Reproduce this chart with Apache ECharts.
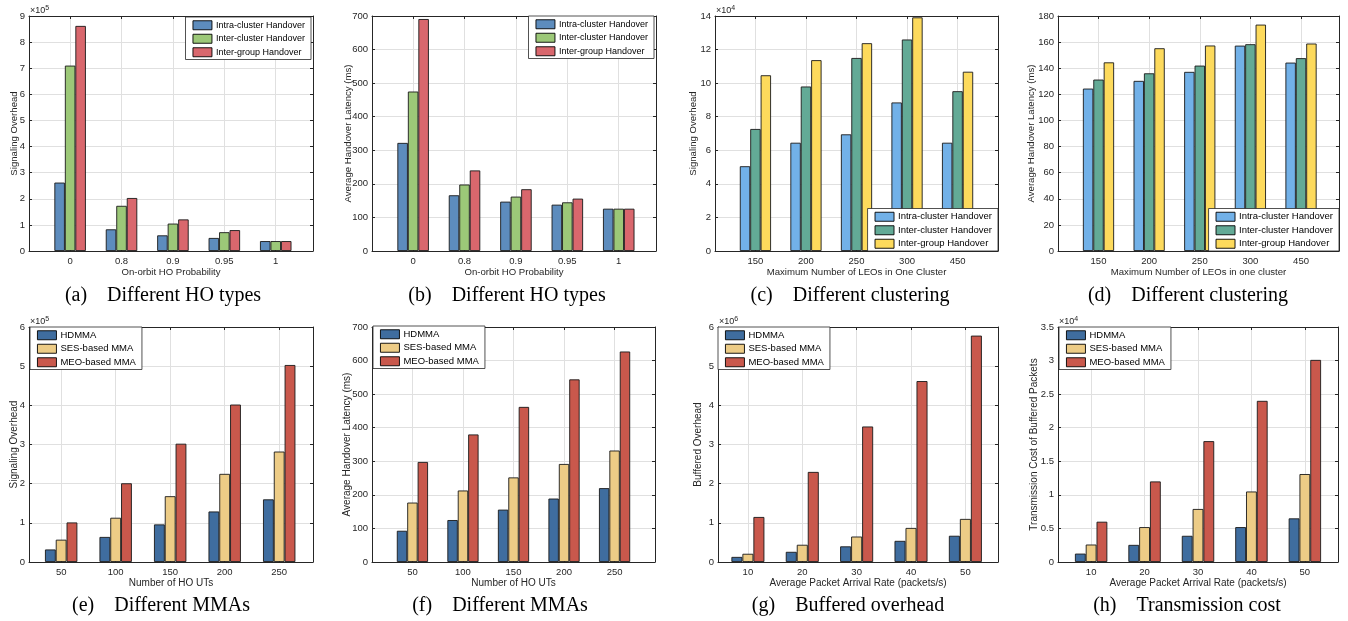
<!DOCTYPE html>
<html>
<head>
<meta charset="utf-8">
<script src="https://cdn.jsdelivr.net/npm/echarts@6/dist/echarts.min.js"></script>
<style>html,body{margin:0;padding:0;background:#fff}#c{width:1348px;height:621px}</style>
</head>
<body>
<div id="c"></div>
<script>
// ---------- data ----------
const hoProbCats = ['0', '0.8', '0.9', '0.95', '1'];
const hoTypeNames = ['Intra-cluster Handover', 'Inter-cluster Handover', 'Inter-group Handover'];
const sigA_intra = [2.62e5, 0.83e5, 0.60e5, 0.50e5, 0.38e5];
const sigA_inter = [7.10e5, 1.73e5, 1.05e5, 0.72e5, 0.38e5];
const sigA_group = [8.62e5, 2.03e5, 1.21e5, 0.80e5, 0.38e5];
const latB_intra = [322, 166, 147, 138, 126];
const latB_inter = [475, 198, 162, 145, 126];
const latB_group = [691, 240, 184, 156, 126];

const leoCats = ['150', '200', '250', '300', '450'];
const sigC_intra = [5.05e4, 6.45e4, 6.95e4, 8.85e4, 6.45e4];
const sigC_inter = [7.27e4, 9.80e4, 11.5e4, 12.6e4, 9.52e4];
const sigC_group = [10.47e4, 11.37e4, 12.38e4, 13.92e4, 10.68e4];
const latD_intra = [124.4, 130.3, 137.2, 157.3, 144.3];
const latD_inter = [131.3, 136.1, 142.0, 158.4, 147.7];
const latD_group = [144.5, 155.3, 157.4, 173.4, 158.9];

const mmaNames = ['HDMMA', 'SES-based MMA', 'MEO-based MMA'];
const utCats = ['50', '100', '150', '200', '250'];
const sigE_hd = [0.32e5, 0.64e5, 0.96e5, 1.29e5, 1.60e5];
const sigE_ses = [0.57e5, 1.13e5, 1.68e5, 2.25e5, 2.82e5];
const sigE_meo = [1.01e5, 2.01e5, 3.02e5, 4.02e5, 5.03e5];
const latF_hd = [93, 125, 156, 189, 220];
const latF_ses = [177, 213, 252, 292, 332];
const latF_meo = [298, 380, 462, 544, 627];

const rateCats = ['10', '20', '30', '40', '50'];
const bufG_hd = [0.13e6, 0.26e6, 0.40e6, 0.54e6, 0.67e6];
const bufG_ses = [0.21e6, 0.44e6, 0.65e6, 0.87e6, 1.10e6];
const bufG_meo = [1.15e6, 2.30e6, 3.46e6, 4.62e6, 5.78e6];
const costH_hd = [0.125e4, 0.255e4, 0.39e4, 0.52e4, 0.65e4];
const costH_ses = [0.26e4, 0.52e4, 0.79e4, 1.05e4, 1.31e4];
const costH_meo = [0.60e4, 1.20e4, 1.80e4, 2.40e4, 3.01e4];

// ---------- styles ----------
const colA = ['#5d8cbd', '#9cc878', '#d9676d'];
const colC = ['#72b1e8', '#63aa96', '#fdda5c'];
const colE = ['#3f6d9f', '#edcc86', '#c9584c'];
const AX = '#262626';
const FONT = 'Liberation Sans';
const CAPFONT = '20px "Liberation Serif"';

const panels = [
  {rect:[29,16,284,235], xlim:[0.2,5.725], bw:10.5, cats:hoProbCats, names:hoTypeNames, vals:[sigA_intra,sigA_inter,sigA_group], colors:colA,
   ymax:9e5, yint:1e5, scale:1e5, exp:'5', xName:'On-orbit HO Probability', yName:'Signaling Overhead', yGap:10,
   legend:{right:1348-311, top:17}, lfs:9, caption:'(a)    Different HO types', cap:[163,296]},
  {rect:[372,16,284,235], xlim:[0.2,5.725], bw:10.5, cats:hoProbCats, names:hoTypeNames, vals:[latB_intra,latB_inter,latB_group], colors:colA,
   ymax:700, yint:100, scale:1, xName:'On-orbit HO Probability', yName:'Average Handover Latency (ms)', yGap:19,
   legend:{right:1348-654, top:16}, lfs:9, caption:'(b)    Different HO types', cap:[507,296]},
  {rect:[715,16,283,235], xlim:[0.2,5.8], bw:10.4, cats:leoCats, names:hoTypeNames, vals:[sigC_intra,sigC_inter,sigC_group], colors:colC,
   ymax:14e4, yint:2e4, scale:1e4, exp:'4', xName:'Maximum Number of LEOs in One Cluster', yName:'Signaling Overhead', yGap:17,
   legend:{right:1348-998, bottom:621-251}, lfs:9.5, caption:'(c)    Different clustering', cap:[850,296]},
  {rect:[1058,16,281,235], xlim:[0.2,5.75], bw:10.4, cats:leoCats, names:hoTypeNames, vals:[latD_intra,latD_inter,latD_group], colors:colC,
   ymax:180, yint:20, scale:1, xName:'Maximum Number of LEOs in one cluster', yName:'Average Handover Latency (ms)', yGap:22,
   legend:{right:1348-1339, bottom:621-251}, lfs:9.5, caption:'(d)    Different clustering', cap:[1188,296]},
  {rect:[29,327,284,235], xlim:[0.41,5.62], bw:10.8, cats:utCats, names:mmaNames, vals:[sigE_hd,sigE_ses,sigE_meo], colors:colE,
   ymax:6e5, yint:1e5, scale:1e5, exp:'5', xName:'Number of HO UTs', yName:'Signaling Overhead', yGap:10,
   legend:{left:30, top:327}, lfs:9.5, caption:'(e)    Different MMAs', cap:[161,606]},
  {rect:[372,327,283,235], xlim:[0.2,5.8], bw:10.4, cats:utCats, names:mmaNames, vals:[latF_hd,latF_ses,latF_meo], colors:colE,
   ymax:700, yint:100, scale:1, xName:'Number of HO UTs', yName:'Average Handover Latency (ms)', yGap:20,
   legend:{left:373, top:326}, lfs:9.5, caption:'(f)    Different MMAs', cap:[500,606]},
  {rect:[718,327,280,235], xlim:[0.45,5.6], bw:11, cats:rateCats, names:mmaNames, vals:[bufG_hd,bufG_ses,bufG_meo], colors:colE,
   ymax:6e6, yint:1e6, scale:1e6, exp:'6', xName:'Average Packet Arrival Rate (packets/s)', yName:'Buffered Overhead', yGap:15,
   legend:{left:718, top:327}, lfs:9.5, caption:'(g)    Buffered overhead', cap:[848,606]},
  {rect:[1058,327,280,235], xlim:[0.38,5.62], bw:10.8, cats:rateCats, names:mmaNames, vals:[costH_hd,costH_ses,costH_meo], colors:colE,
   ymax:3.5e4, yint:0.5e4, scale:1e4, exp:'4', xName:'Average Packet Arrival Rate (packets/s)', yName:'Transmission Cost of Buffered Packets', yGap:19,
   legend:{left:1059, top:327}, lfs:9.5, caption:'(h)    Transmission cost', cap:[1187,606]}
];

const grid = [], xAxis = [], yAxis = [], series = [], legend = [], graphic = [];
const pos = [1, 2, 3, 4, 5];

panels.forEach((p, i) => {
  const [l, t, w, h] = p.rect;
  grid.push({left:l, top:t, width:w, height:h, containLabel:false});
  const lineStyle = {color:AX, width:1};
  xAxis.push({
    gridIndex:i, type:'value', min:p.xlim[0], max:p.xlim[1], position:'bottom',
    axisLine:{show:true, onZero:false, lineStyle},
    axisTick:{show:true, inside:true, length:3, customValues:pos, lineStyle},
    axisLabel:{show:true, customValues:pos, formatter:(v) => p.cats[Math.round(v) - 1], color:AX, fontSize:9.5, margin:5, fontFamily:FONT},
    splitLine:{show:true, lineStyle:{color:'#e0e0e0', width:1}},
    name:p.xName, nameLocation:'middle', nameGap:16, nameMoveOverlap:false,
    nameTextStyle:{color:AX, fontSize:i < 4 ? 9.6 : 10, fontFamily:FONT}
  });
  xAxis.push({
    gridIndex:i, type:'value', min:p.xlim[0], max:p.xlim[1], position:'top',
    axisLine:{show:true, onZero:false, lineStyle},
    axisTick:{show:true, inside:true, length:3, customValues:pos, lineStyle},
    axisLabel:{show:false}, splitLine:{show:false}
  });
  yAxis.push({
    gridIndex:i, type:'value', min:0, max:p.ymax, interval:p.yint, position:'left',
    axisLine:{show:true, onZero:false, lineStyle},
    axisTick:{show:true, inside:true, length:3, lineStyle},
    axisLabel:{show:true, color:AX, fontSize:9.5, margin:4, fontFamily:FONT,
      formatter:(v) => String(+(v / p.scale).toFixed(3))},
    splitLine:{show:true, lineStyle:{color:'#e0e0e0', width:1}},
    name:p.yName, nameLocation:'middle', nameGap:p.yGap, nameMoveOverlap:false,
    nameTextStyle:{color:AX, fontSize:i < 4 ? 9.6 : 10, fontFamily:FONT}
  });
  yAxis.push({
    gridIndex:i, type:'value', min:0, max:p.ymax, interval:p.yint, position:'right',
    axisLine:{show:true, onZero:false, lineStyle},
    axisTick:{show:true, inside:true, length:3, lineStyle},
    axisLabel:{show:false}, splitLine:{show:false}
  });
  p.vals.forEach((arr, k) => {
    series.push({
      type:'bar', name:p.names[k], xAxisIndex:2 * i, yAxisIndex:2 * i,
      barWidth:p.bw, barGap:'0%',
      itemStyle:{color:p.colors[k], borderColor:'#1a1a1a', borderWidth:0.9},
      data:arr.map((v, j) => [pos[j], v])
    });
  });
  legend.push(Object.assign({
    orient:'vertical', selectedMode:false, icon:'rect',
    itemWidth:19, itemHeight:9, itemGap:3,
    backgroundColor:'#fff', borderColor:AX, borderWidth:0.8, borderRadius:0,
    padding:[3, 6, 2, 7],
    textStyle:{fontSize:p.lfs, color:'#000', fontFamily:FONT, lineHeight:10.5, padding:[0,0,0,-1]},
    data:p.names.map((n, k) => ({name:n, itemStyle:{color:p.colors[k], borderColor:'#000', borderWidth:0.9}}))
  }, p.legend));
  graphic.push({
    type:'text', x:p.cap[0], y:p.cap[1],
    style:{text:p.caption, font:CAPFONT, fill:'#000', textAlign:'center', textVerticalAlign:'middle'}
  });
  if (p.exp) {
    graphic.push({
      type:'text', x:l + 1, y:t + 1,
      style:{text:'×10{s|' + p.exp + '}', fill:AX, font:'9px "Liberation Sans"', textVerticalAlign:'bottom',
        rich:{s:{fontSize:7, verticalAlign:'top', padding:[0,0,5,0], fill:AX}}}
    });
  }
});

const chart = echarts.init(document.getElementById('c'), null, {renderer:'canvas'});
chart.setOption({
  animation:false,
  textStyle:{fontFamily:FONT},
  grid, xAxis, yAxis, series, legend, graphic
});
</script>
</body>
</html>
